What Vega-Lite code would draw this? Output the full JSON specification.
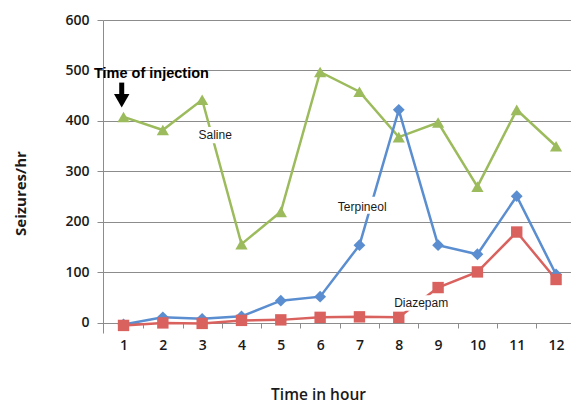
{
  "$schema": "https://vega.github.io/schema/vega-lite/v6.json",
  "width": 468,
  "height": 313,
  "autosize": {"type": "none"},
  "padding": {"left": 103, "top": 20, "right": 0, "bottom": 70},
  "background": "white",
  "config": {
    "view": {"stroke": null},
    "axis": {"labelFont": "Open Sans", "titleFont": "Open Sans", "labelColor": "#1a1a1a", "titleColor": "#1a1a1a"}
  },
  "datasets": {
    "series": [
      {"hour": 1, "seizures": 408, "series": "Saline"},
      {"hour": 2, "seizures": 382, "series": "Saline"},
      {"hour": 3, "seizures": 442, "series": "Saline"},
      {"hour": 4, "seizures": 156, "series": "Saline"},
      {"hour": 5, "seizures": 220, "series": "Saline"},
      {"hour": 6, "seizures": 497, "series": "Saline"},
      {"hour": 7, "seizures": 458, "series": "Saline"},
      {"hour": 8, "seizures": 368, "series": "Saline"},
      {"hour": 9, "seizures": 397, "series": "Saline"},
      {"hour": 10, "seizures": 270, "series": "Saline"},
      {"hour": 11, "seizures": 422, "series": "Saline"},
      {"hour": 12, "seizures": 350, "series": "Saline"},
      {"hour": 1, "seizures": -3, "series": "Terpineol"},
      {"hour": 2, "seizures": 11, "series": "Terpineol"},
      {"hour": 3, "seizures": 8, "series": "Terpineol"},
      {"hour": 4, "seizures": 13, "series": "Terpineol"},
      {"hour": 5, "seizures": 44, "series": "Terpineol"},
      {"hour": 6, "seizures": 52, "series": "Terpineol"},
      {"hour": 7, "seizures": 154, "series": "Terpineol"},
      {"hour": 8, "seizures": 422, "series": "Terpineol"},
      {"hour": 9, "seizures": 154, "series": "Terpineol"},
      {"hour": 10, "seizures": 136, "series": "Terpineol"},
      {"hour": 11, "seizures": 251, "series": "Terpineol"},
      {"hour": 12, "seizures": 96, "series": "Terpineol"},
      {"hour": 1, "seizures": -5, "series": "Diazepam"},
      {"hour": 2, "seizures": 0, "series": "Diazepam"},
      {"hour": 3, "seizures": -1, "series": "Diazepam"},
      {"hour": 4, "seizures": 5, "series": "Diazepam"},
      {"hour": 5, "seizures": 6, "series": "Diazepam"},
      {"hour": 6, "seizures": 11, "series": "Diazepam"},
      {"hour": 7, "seizures": 12, "series": "Diazepam"},
      {"hour": 8, "seizures": 11, "series": "Diazepam"},
      {"hour": 9, "seizures": 70, "series": "Diazepam"},
      {"hour": 10, "seizures": 101, "series": "Diazepam"},
      {"hour": 11, "seizures": 180, "series": "Diazepam"},
      {"hour": 12, "seizures": 86, "series": "Diazepam"}
    ],
    "labels": [
      {"text": "Saline", "hour": 3.33, "seizures": 372, "h0": 2.84, "h1": 3.81, "s0": 356, "s1": 388},
      {"text": "Terpineol", "hour": 7.07, "seizures": 230, "h0": 6.39, "h1": 7.76, "s0": 216, "s1": 250},
      {"text": "Diazepam", "hour": 8.57, "seizures": 40, "h0": 7.8, "h1": 9.33, "s0": 24, "s1": 55}
    ]
  },
  "resolve": {"axis": {"x": "independent"}},
  "layer": [
    {
      "data": {"name": "series"},
      "mark": {"type": "line", "strokeWidth": 2.5},
      "encoding": {
        "x": {
          "field": "hour", "type": "quantitative",
          "scale": {"domain": [0.478, 12.38], "nice": false, "zero": false},
          "axis": {
            "orient": "bottom", "offset": -10, "values": [1,2,3,4,5,6,7,8,9,10,11,12],
            "ticks": false, "tickSize": 0, "grid": false, "domain": true, "domainColor": "#8c8c8c",
            "labelFontSize": 14, "labelFontWeight": 600, "labelPadding": 15,
            "title": "Time in hour", "titleFontSize": 15.5, "titleFontWeight": 600,
            "titleX": 215, "titleY": 76, "titleBaseline": "alphabetic", "titleAlign": "center", "titleAnchor": null
          }
        },
        "y": {
          "field": "seizures", "type": "quantitative",
          "scale": {"domain": [-20, 600], "nice": false, "zero": false},
          "axis": {
            "values": [0,100,200,300,400,500,600], "grid": true, "gridColor": "#8c8c8c", "gridWidth": 1,
            "domainColor": "#8c8c8c", "tickColor": "#8c8c8c", "tickSize": 6,
            "labelFontSize": 14, "labelFontWeight": 600, "labelPadding": 8,
            "title": "Seizures/hr", "titleFontSize": 15, "titleFontWeight": 700,
            "titleAngle": -90, "titleX": -83, "titleY": 173, "titleBaseline": "middle", "titleAlign": "center", "titleAnchor": null
          }
        },
        "color": {
          "field": "series", "type": "nominal",
          "scale": {"domain": ["Saline", "Terpineol", "Diazepam"], "range": ["#9CBB5C", "#5A8ED0", "#D9625F"]},
          "legend": null
        },
        "detail": {"field": "series"}
      }
    },
    {
      "data": {"name": "series"},
      "mark": {"type": "point", "opacity": 0},
      "encoding": {
        "x": {
          "field": "hour", "type": "quantitative",
          "axis": {
            "orient": "bottom", "offset": -10, "values": [1.5,2.5,3.5,4.5,5.5,6.5,7.5,8.5,9.5,10.5,11.5],
            "ticks": true, "tickSize": 5, "tickColor": "#8c8c8c", "labels": false, "grid": false, "domain": false, "title": null
          }
        },
        "y": {"field": "seizures", "type": "quantitative"}
      }
    },
    {
      "data": {"name": "labels"},
      "mark": {"type": "rect", "color": "white"},
      "encoding": {
        "x": {"field": "h0", "type": "quantitative", "axis": null},
        "x2": {"field": "h1"},
        "y": {"field": "s0", "type": "quantitative"},
        "y2": {"field": "s1"}
      }
    },
    {
      "data": {"name": "series"},
      "mark": {"type": "point", "filled": true, "opacity": 1},
      "encoding": {
        "x": {"field": "hour", "type": "quantitative", "axis": null},
        "y": {"field": "seizures", "type": "quantitative"},
        "color": {"field": "series", "type": "nominal", "legend": null},
        "shape": {
          "field": "series", "type": "nominal",
          "scale": {"domain": ["Saline", "Terpineol", "Diazepam"], "range": ["triangle-up", "diamond", "square"]},
          "legend": null
        },
        "size": {
          "field": "series", "type": "nominal",
          "scale": {"domain": ["Saline", "Terpineol", "Diazepam"], "range": [150, 130, 120]},
          "legend": null
        }
      }
    },
    {
      "data": {"name": "labels"},
      "mark": {"type": "text", "font": "Liberation Sans", "fontSize": 12, "color": "#1a1a1a", "align": "center", "baseline": "middle"},
      "encoding": {
        "x": {"field": "hour", "type": "quantitative", "axis": null},
        "y": {"field": "seizures", "type": "quantitative"},
        "text": {"field": "text"}
      }
    },
    {
      "data": {"values": [{"text": "Time of injection"}]},
      "mark": {"type": "text", "font": "Liberation Sans", "fontSize": 14.5, "fontWeight": "bold", "color": "black", "align": "center", "baseline": "middle"},
      "encoding": {
        "x": {"datum": 1.71, "type": "quantitative", "axis": null},
        "y": {"datum": 493, "type": "quantitative"},
        "text": {"field": "text"}
      }
    },
    {
      "data": {"values": [{}]},
      "mark": {"type": "rule", "strokeWidth": 5, "color": "black"},
      "encoding": {
        "x": {"datum": 0.954, "type": "quantitative", "axis": null},
        "y": {"datum": 476, "type": "quantitative"},
        "y2": {"datum": 446}
      }
    },
    {
      "data": {"values": [{}]},
      "mark": {"type": "point", "shape": "triangle-down", "filled": true, "color": "black", "opacity": 1, "size": 240},
      "encoding": {
        "x": {"datum": 0.954, "type": "quantitative", "axis": null},
        "y": {"datum": 440, "type": "quantitative"}
      }
    }
  ]
}
